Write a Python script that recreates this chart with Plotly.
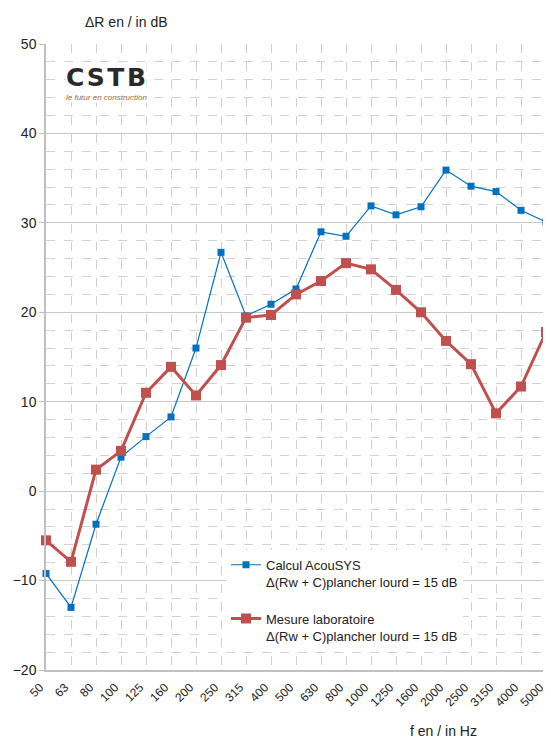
import plotly.graph_objects as go

# third-octave band centre frequencies
freqs = ["50", "63", "80", "100", "125", "160", "200", "250", "315", "400", "500",
         "630", "800", "1000", "1250", "1600", "2000", "2500", "3150", "4000", "5000"]

# Calcul AcouSYS
calcul = [-9.2, -13.0, -3.7, 3.8, 6.1, 8.3, 16.0, 26.7, 19.6, 20.9, 22.6,
          29.0, 28.5, 31.9, 30.9, 31.8, 35.9, 34.1, 33.5, 31.4, 30.1]

# Mesure laboratoire
mesure = [-5.5, -7.9, 2.4, 4.5, 11.0, 13.9, 10.7, 14.1, 19.4, 19.7, 22.0,
          23.5, 25.5, 24.8, 22.5, 20.0, 16.8, 14.2, 8.7, 11.7, 17.8]

FONT = "Liberation Sans, Arial, sans-serif"

fig = go.Figure()
fig.add_trace(go.Scatter(
    x=freqs, y=calcul, mode="lines+markers",
    name="Calcul AcouSYS<br>Δ(Rw + C)plancher lourd = 15 dB",
    line=dict(color="#0070C0", width=1.2),
    marker=dict(symbol="square", size=7, color="#0070C0"),
    cliponaxis=False, legendgroup="a",
))
fig.add_trace(go.Scatter(
    x=freqs, y=mesure, mode="lines+markers",
    name="Mesure laboratoire<br>Δ(Rw + C)plancher lourd = 15 dB",
    line=dict(color="#C0504D", width=3),
    marker=dict(symbol="square", size=10, color="#C0504D"),
    cliponaxis=False, legendgroup="b",
))

fig.update_xaxes(
    type="category", range=[0, 20], automargin=False,
    showgrid=True, gridcolor="#cfcfcf", griddash="dash", gridwidth=1,
    showline=True, linecolor="#bfbfbf", linewidth=1.5,
    tickangle=-45, tickfont=dict(family=FONT, size=12, color="#222"),
    ticklabelshift=-6, ticklabelstandoff=4,
    ticks="", zeroline=False,
)
fig.update_yaxes(
    range=[-20, 50], dtick=10, automargin=False,
    showgrid=True, gridcolor="#c8c8c8", gridwidth=1,
    minor=dict(dtick=2, showgrid=True, gridcolor="#d2d2d2", griddash="dash", gridwidth=1),
    showline=True, linecolor="#bfbfbf", linewidth=1.5,
    ticks="outside", ticklen=5, tickcolor="#bfbfbf",
    tickfont=dict(family=FONT, size=14, color="#222"),
    zeroline=False,
)

# page body has an 8px margin, so the figure is sized to fit the window
fig.update_layout(
    width=543, height=734,
    margin=dict(l=38, r=5, t=36, b=72, autoexpand=False),
    paper_bgcolor="white", plot_bgcolor="white",
    font=dict(family=FONT, size=12, color="#222"),
    showlegend=True,
    legend=dict(
        x=0.36, y=0.192, xanchor="left", yanchor="top",
        bgcolor="white", borderwidth=0,
        font=dict(family=FONT, size=13, color="#222"),
        valign="top", tracegroupgap=17, itemwidth=30,
    ),
    annotations=[
        dict(text="ΔR en / in dB", xref="paper", yref="paper", x=0.16, y=1.035,
             xanchor="center", yanchor="middle", showarrow=False,
             font=dict(family=FONT, size=14, color="#222")),
        dict(text="f en / in Hz", xref="paper", yref="paper", x=0.794, y=-0.097,
             xanchor="center", yanchor="middle", showarrow=False,
             font=dict(family=FONT, size=14, color="#222")),
        dict(text="<b>C\u200aS\u200aT\u200aB</b>", xref="paper", yref="paper", x=0.038, y=0.946,
             xanchor="left", yanchor="middle", showarrow=False,
             bgcolor="white", borderpad=0,
             font=dict(family="DejaVu Sans, sans-serif", size=25, color="#2a2a2a")),
        dict(text="<i>le futur en construction</i>", xref="paper", yref="paper", x=0.038, y=0.914,
             xanchor="left", yanchor="middle", showarrow=False,
             bgcolor="white", borderpad=0,
             font=dict(family=FONT, size=8, color="#9a6a3c")),
    ],
)

fig.write_html("out.html")
